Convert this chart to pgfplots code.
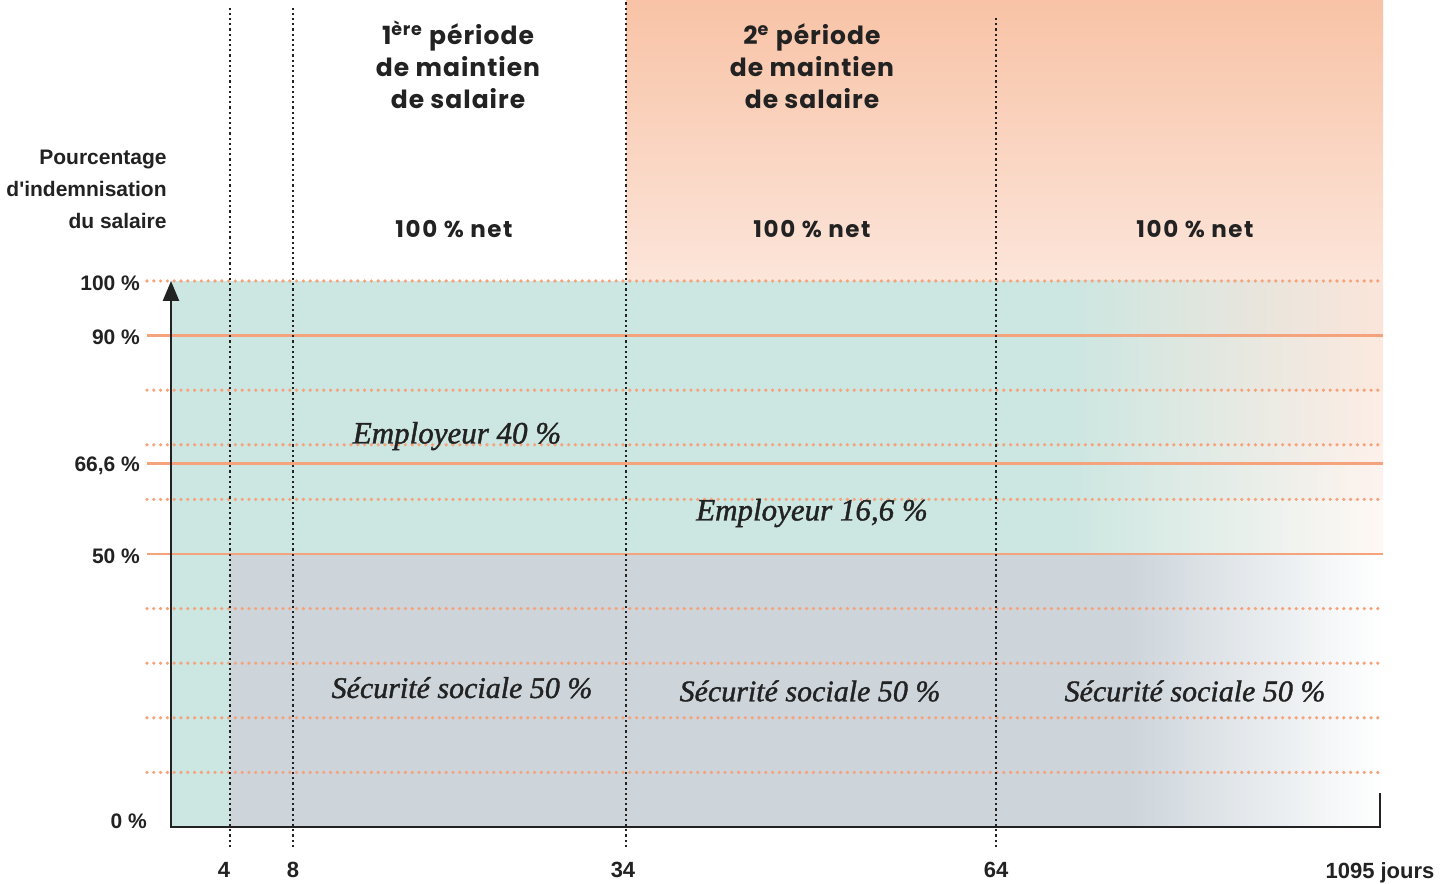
\documentclass[border=0pt]{standalone}
\usepackage{pgfplots}
\pgfplotsset{compat=1.18}
\usetikzlibrary{arrows.meta}
\usepackage{fontspec}
\setmainfont{Liberation Sans}
\newfontfamily\grot{Liberation Sans}
\newfontfamily\heads{Poppins}[LetterSpace=4]
\newfontfamily\headsw{Poppins}[LetterSpace=7]
\newfontfamily\ital{Liberation Serif}[ItalicFeatures={FakeBold=1.3}]
\definecolor{tealc}{HTML}{CCE6E1}
\definecolor{greyc}{HTML}{CDD5DB}
\definecolor{orangel}{HTML}{F5A37C}
\definecolor{orangedot}{HTML}{F6A27B}
\definecolor{salmontop}{HTML}{F8C3A6}
\definecolor{salmonbot}{HTML}{FCE5DA}
\definecolor{inkc}{HTML}{222222}
\definecolor{fadeA}{HTML}{FFF8F4}
\definecolor{fadeB}{HTML}{FEF3EE}
\definecolor{fadeC}{HTML}{FEF0EA}
\definecolor{fadeD}{HTML}{FDEDE5}
\definecolor{fadeE}{HTML}{FCE9DF}
\definecolor{fadeF}{HTML}{FBE5DA}
\begin{document}
\begin{tikzpicture}
\begin{axis}[name=ax, scale only axis, width=606pt, height=273pt,
  xmin=0, xmax=1212, ymin=0, ymax=100, clip=false,
  axis line style={draw=none}, major tick length=0pt, no markers,
  xtick={59,122,455,825,1209}, xticklabels={\hspace*{-6pt}4,8,\hspace*{-3pt}34,64,1095 jours},
  ytick={50,66.6,90,100}, yticklabels={50~\%,{66,6~\%},90~\%,100~\%},
  extra y ticks={0}, extra y tick labels={0~\%},
  extra y tick style={yticklabel style={xshift=3.5pt, yshift=4pt}},
  ticklabel style={font=\grot\bfseries\fontsize{10.5}{12}\selectfont, text=inkc},
  xticklabel style={yshift=-14pt, font=\grot\bfseries\fontsize{11}{12}\selectfont},
  yticklabel style={xshift=-12pt, yshift=-1pt}]
% top salmon region (2e periode and beyond)
\addplot[draw=none, top color=salmontop, bottom color=salmonbot] coordinates {(455,100) (1212,100) (1212,151.5) (455,151.5)};
% employer share (teal)
\addplot[draw=none, fill=tealc] coordinates {(0,0) (59,0) (59,50) (900,50) (900,100) (0,100)};
% social security share (grey)
\addplot[draw=none, fill=greyc] coordinates {(59,0) (960,0) (960,50) (59,50)};
% fading towards 1095 days
\addplot[draw=none, left color=tealc, right color=fadeA] coordinates {(898,50) (1212,50) (1212,60) (898,60)};
\addplot[draw=none, left color=tealc, right color=fadeB] coordinates {(898,60) (1212,60) (1212,66.6) (898,66.6)};
\addplot[draw=none, left color=tealc, right color=fadeC] coordinates {(898,66.6) (1212,66.6) (1212,70) (898,70)};
\addplot[draw=none, left color=tealc, right color=fadeD] coordinates {(898,70) (1212,70) (1212,80) (898,80)};
\addplot[draw=none, left color=tealc, right color=fadeE] coordinates {(898,80) (1212,80) (1212,90) (898,90)};
\addplot[draw=none, left color=tealc, right color=fadeF] coordinates {(898,90) (1212,90) (1212,100) (898,100)};
\addplot[draw=none, left color=greyc, right color=white] coordinates {(958,0) (1212,0) (1212,50) (958,50)};
% dotted orange grid
\addplot[orangedot, line width=1.8pt, line cap=round, dash pattern=on 0pt off 3.4pt] coordinates {(-24,10) (1212,10)};
\addplot[orangedot, line width=1.8pt, line cap=round, dash pattern=on 0pt off 3.4pt] coordinates {(-24,20) (1212,20)};
\addplot[orangedot, line width=1.8pt, line cap=round, dash pattern=on 0pt off 3.4pt] coordinates {(-24,30) (1212,30)};
\addplot[orangedot, line width=1.8pt, line cap=round, dash pattern=on 0pt off 3.4pt] coordinates {(-24,40) (1212,40)};
\addplot[orangedot, line width=1.8pt, line cap=round, dash pattern=on 0pt off 3.4pt] coordinates {(-24,60) (1212,60)};
\addplot[orangedot, line width=1.8pt, line cap=round, dash pattern=on 0pt off 3.4pt] coordinates {(-24,70) (1212,70)};
\addplot[orangedot, line width=1.8pt, line cap=round, dash pattern=on 0pt off 3.4pt] coordinates {(-24,80) (1212,80)};
\addplot[orangedot, line width=1.8pt, line cap=round, dash pattern=on 0pt off 3.4pt] coordinates {(-24,100) (1212,100)};
% solid orange levels
\addplot[orangel, line width=1.4pt] coordinates {(-24,50) (1212,50)};
\addplot[orangel, line width=1.4pt] coordinates {(-24,66.6) (1212,66.6)};
\addplot[orangel, line width=1.4pt] coordinates {(-24,90) (1212,90)};
% period boundaries
\addplot[inkc, line width=1.2pt, dash pattern=on 1.1pt off 1.5pt] coordinates {(59,-3.66) (59,150)};
\addplot[inkc, line width=1.2pt, dash pattern=on 1.1pt off 1.5pt] coordinates {(122,-3.66) (122,150)};
\addplot[inkc, line width=1.2pt, dash pattern=on 1.1pt off 1.5pt] coordinates {(455,-3.66) (455,151.5)};
\addplot[inkc, line width=1.2pt, dash pattern=on 1.1pt off 1.5pt] coordinates {(825,-3.66) (825,148.5)};
% axes
\addplot[inkc, line width=1.3pt, -{Triangle[length=10pt,width=8pt]}] coordinates {(0,0) (0,100)};
\addplot[inkc, line width=1.3pt, line join=miter] coordinates {(-0.6,0) (1209,0) (1209,6.2)};
% texts
\node[anchor=east, inner sep=0pt, align=right, font=\grot\bfseries\fontsize{10.5}{16}\selectfont, text=inkc] at (axis cs:-4,116.8) {Pourcentage\\d'indemnisation\\du salaire};
\node[align=center, font=\heads\bfseries\fontsize{12.5}{16}\selectfont, text=inkc] at (axis cs:287,139.6) {1\textsuperscript{ère} période\\de maintien\\de salaire};
\node[align=center, font=\heads\bfseries\fontsize{12.5}{16}\selectfont, text=inkc] at (axis cs:641,139.4) {2\textsuperscript{e} période\\de maintien\\de salaire};
\node[font=\headsw\bfseries\fontsize{11.5}{13}\selectfont, text=inkc] at (axis cs:283,109.5) {100 \% net};
\node[font=\headsw\bfseries\fontsize{11.5}{13}\selectfont, text=inkc] at (axis cs:641,109.5) {100 \% net};
\node[font=\headsw\bfseries\fontsize{11.5}{13}\selectfont, text=inkc] at (axis cs:1024,109.5) {100 \% net};
\node[font=\ital\itshape\fontsize{15.5}{16}\selectfont, text=inkc] at (axis cs:286,71.6) {Employeur 40 \%};
\node[font=\ital\itshape\fontsize{15.5}{16}\selectfont, text=inkc] at (axis cs:641,57.5) {Employeur 16,6 \%};
\node[font=\ital\itshape\fontsize{15}{16}\selectfont, text=inkc] at (axis cs:291,25.5) {Sécurité sociale 50 \%};
\node[font=\ital\itshape\fontsize{15}{16}\selectfont, text=inkc] at (axis cs:639,24.9) {Sécurité sociale 50 \%};
\node[font=\ital\itshape\fontsize{15}{16}\selectfont, text=inkc] at (axis cs:1024,24.9) {Sécurité sociale 50 \%};
\end{axis}
\pgfresetboundingbox
\path (ax.south west) ++(-85.5pt,-28.5pt) rectangle ++(726pt,442pt);
\end{tikzpicture}
\end{document}
